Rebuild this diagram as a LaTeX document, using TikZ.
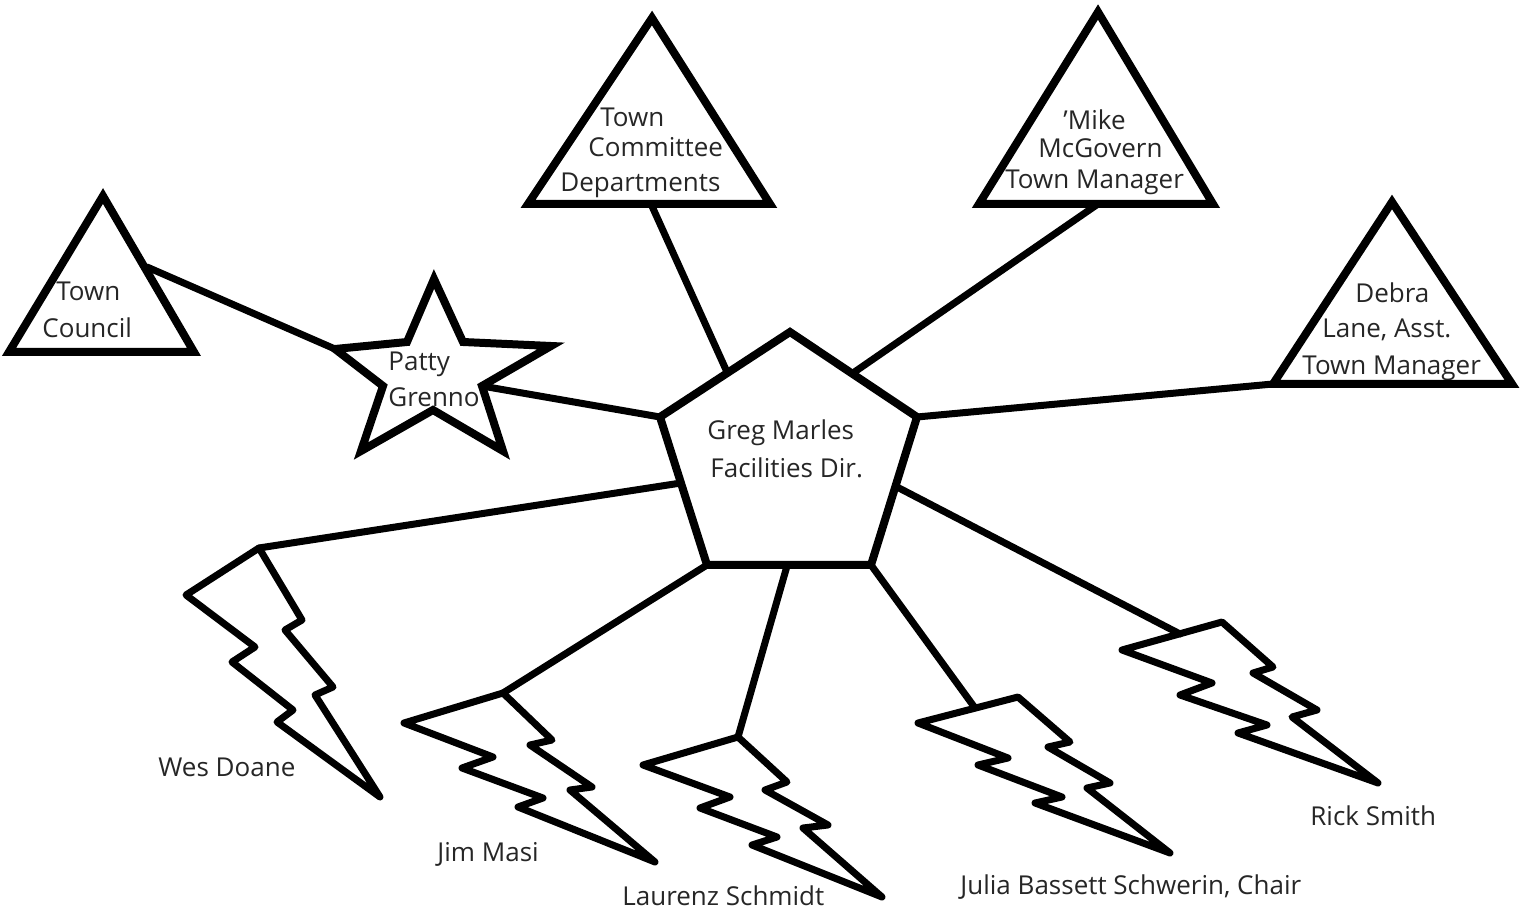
\documentclass[tikz,border=0pt]{standalone}
\usepackage{fontspec}
\setmainfont{Open Sans}
\tikzset{
  shp/.style={line width=4pt, line join=miter},
  conn/.style={line width=3.5pt, line cap=round},
  bolt/.style={line width=3.5pt, line join=round},
  lbl/.style={font=\fontsize{13}{15}\selectfont, inner sep=0pt, text height=9.5pt, text depth=2.5pt, anchor=west, text=black!85, yshift=-1.5pt},
}
\begin{document}
\begin{tikzpicture}[x=0.5pt, y=-0.5pt]
\useasboundingbox (0,0) rectangle (1525,913);

% ---- coordinates: pentagon
\coordinate (pT) at (790,332);
\coordinate (pL) at (660,417);
\coordinate (pR) at (917,417);
\coordinate (pBL) at (707,565);
\coordinate (pBR) at (871,565);

% ---- triangles
\coordinate (tcA) at (103,196); \coordinate (tcL) at (9,352); \coordinate (tcR) at (194,352);
\coordinate (cmA) at (652,18); \coordinate (cmL) at (528,204); \coordinate (cmR) at (770,204);
\coordinate (mmA) at (1098,12); \coordinate (mmL) at (979,204); \coordinate (mmR) at (1213,204);
\coordinate (dlA) at (1392,202); \coordinate (dlL) at (1273,384); \coordinate (dlR) at (1512,384);

% ---- star
\coordinate (s1) at (434,279);
\coordinate (s2) at (463,342);
\coordinate (s3) at (551,346);
\coordinate (s4) at (482,386);
\coordinate (s5) at (503,451);
\coordinate (s6) at (433,410);
\coordinate (s7) at (361,451);
\coordinate (s8) at (383,386);
\coordinate (s9) at (335,349);
\coordinate (s10) at (407,342);

% ---- labels (drawn first, shapes over them)
\node[lbl] (tc1) at (56,291) {Town};
\node[lbl] (tc2) at (42,328) {Council};
\node[lbl] (cm1) at (600,117) {Town};
\node[lbl] (cm2) at (588,147) {Committee};
\node[lbl] (cm3) at (560,182) {Departments};
\node[lbl] (mm1) at (1063,120) {'Mike};
\node[lbl] (mm2) at (1038,148) {McGovern};
\node[lbl] (mm3) at (1005,179) {Town Manager};
\node[lbl] (dl1) at (1355,293) {Debra};
\node[lbl] (dl2) at (1322,328) {Lane, Asst.};
\node[lbl] (dl3) at (1302,365) {Town Manager};
\node[lbl] (pg1) at (388,361) {Patty};
\node[lbl] (pg2) at (388,397) {Grenno};
\node[lbl] (gm1) at (707,430) {Greg Marles};
\node[lbl] (gm2) at (710,468) {Facilities Dir.};
\node[lbl] (wd) at (158,766) {Wes Doane};
\node[lbl] (jm) at (437,851) {Jim Masi};
\node[lbl] (ls) at (622,895) {Laurenz Schmidt};
\node[lbl] (jb) at (960,884) {Julia Bassett Schwerin, Chair};
\node[lbl] (rs) at (1310,815) {Rick Smith};

% ---- shapes
\draw[shp] (pT) -- (pR) -- (pBR) -- (pBL) -- (pL) -- cycle;
\draw[shp] (tcA) -- (tcR) -- (tcL) -- cycle;
\draw[shp] (cmA) -- (cmR) -- (cmL) -- cycle;
\draw[shp] (mmA) -- (mmR) -- (mmL) -- cycle;
\draw[shp] (dlA) -- (dlR) -- (dlL) -- cycle;
\draw[shp] (s1) -- (s2) -- (s3) -- (s4) -- (s5) -- (s6) -- (s7) -- (s8) -- (s9) -- (s10) -- cycle;

% ---- bolts
% Wes Doane
\coordinate (wA) at (259,548);
\draw[bolt] (wA) -- (302,620) -- (285,630) -- (333,687) -- (315,695) -- (380,797)
  -- (277,722) -- (293,710) -- (232,662) -- (255,647) -- (186,595) -- cycle;
% Jim Masi
\coordinate (jA) at (503,693);
\draw[bolt] (jA) -- (552,740) -- (530,745) -- (592,787) -- (570,790) -- (655,862)
  -- (518,807) -- (543,798) -- (462,768) -- (493,757) -- (404,723) -- cycle;
% Laurenz Schmidt
\coordinate (lA) at (738,737);
\draw[bolt] (lA) -- (787,782) -- (765,790) -- (828,825) -- (803,828) -- (882,897)
  -- (752,845) -- (777,837) -- (700,808) -- (730,797) -- (643,765) -- cycle;
% Julia Bassett Schwerin
\coordinate (juA) at (1018,697);
\coordinate (juB) at (918,723);
\draw[bolt] (juA) -- (1070,742) -- (1048,747) -- (1110,783) -- (1087,788) -- (1170,853)
  -- (1035,803) -- (1062,797) -- (978,765) -- (1008,758) -- (juB) -- cycle;
% Rick Smith
\coordinate (rA) at (1222,622);
\coordinate (rB) at (1122,650);
\draw[bolt] (rA) -- (1273,667) -- (1253,673) -- (1317,710) -- (1292,717) -- (1378,783)
  -- (1238,733) -- (1267,725) -- (1180,695) -- (1212,683) -- (rB) -- cycle;

% ---- connector end points
\coordinate (tcE) at (147,267);
\coordinate (cmE) at (651,204);
\coordinate (cmP) at (727,372);
\coordinate (mmE) at (1098,204);
\coordinate (mmP) at (853,373);
\coordinate (wdP) at (681,483);
\coordinate (lsP) at (787,566);
\coordinate (juE) at (975,708);
\coordinate (rsP) at (897,487);
\coordinate (rsE) at (1180,634);

% ---- connectors
\draw[conn] (tcE) -- (s9);
\draw[conn] (s4) -- (pL);
\draw[conn] (cmE) -- (cmP);
\draw[conn] (mmE) -- (mmP);
\draw[conn] (pR) -- (dlL);
\draw[conn] (wdP) -- (wA);
\draw[conn] (pBL) -- (jA);
\draw[conn] (lsP) -- (lA);
\draw[conn] (pBR) -- (juE);
\draw[conn] (rsP) -- (rsE);
\end{tikzpicture}
\end{document}
